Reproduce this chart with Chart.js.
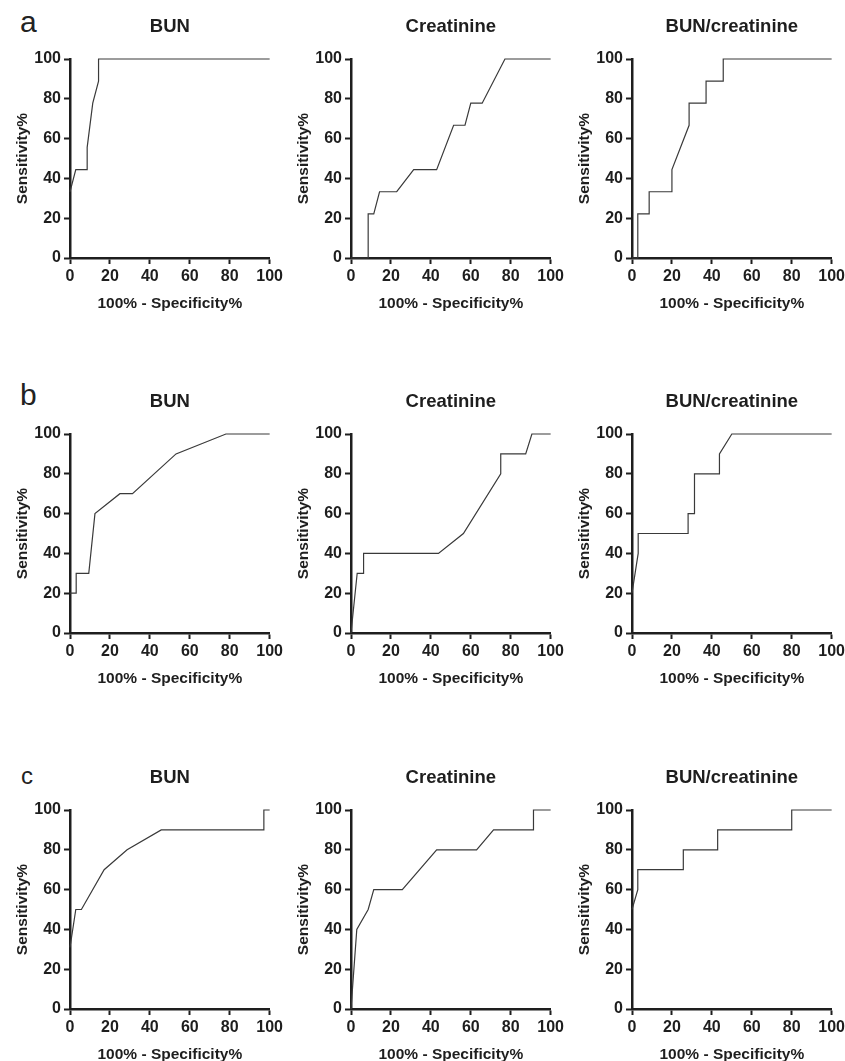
<!DOCTYPE html>
<html>
<head>
<meta charset="utf-8">
<script src="https://cdn.jsdelivr.net/npm/chart.js@4.4.1/dist/chart.umd.min.js"></script>
<style>
  html, body { margin: 0; padding: 0; background: #fff; overflow: hidden; }
  body { width: 845px; height: 1061px; position: relative; }
  canvas { position: absolute; }
  .tag { position: absolute; font-family: Arial, "Liberation Sans", sans-serif; line-height: 1; color: #222; }
</style>
</head>
<body>
<div class="tag" style="left:20px; top:7px; font-size:30px;">a</div>
<div class="tag" style="left:20px; top:380px; font-size:30px;">b</div>
<div class="tag" style="left:21px; top:764px; font-size:24px;">c</div>

<script>
// tick labels shared by every panel
const tickValues = [0, 20, 40, 60, 80, 100];
const panelTitles = ["BUN", "Creatinine", "BUN/creatinine"];

// row a
const aBunX = [0, 2.9, 8.6, 8.6, 11.4, 14.3, 14.3, 100];
const aBunY = [33.3, 44.4, 44.4, 55.6, 77.8, 88.9, 100, 100];
const aCreX = [0, 8.6, 8.6, 11.4, 14.3, 22.9, 31.4, 42.9, 51.4, 57.1, 60, 65.7, 77.1, 100];
const aCreY = [0, 0, 22.2, 22.2, 33.3, 33.3, 44.4, 44.4, 66.7, 66.7, 77.8, 77.8, 100, 100];
const aRatX = [0, 2.9, 2.9, 8.6, 8.6, 20, 20, 28.6, 28.6, 37.1, 37.1, 45.7, 45.7, 100];
const aRatY = [0, 0, 22.2, 22.2, 33.3, 33.3, 44.4, 66.7, 77.8, 77.8, 88.9, 88.9, 100, 100];

// row b
const bBunX = [0, 3.1, 3.1, 9.4, 12.5, 25, 31.3, 53.1, 78.1, 100];
const bBunY = [20, 20, 30, 30, 60, 70, 70, 90, 100, 100];
const bCreX = [0, 3.1, 6.3, 6.3, 43.8, 56.3, 75, 75, 87.5, 90.6, 100];
const bCreY = [0, 30, 30, 40, 40, 50, 80, 90, 90, 100, 100];
const bRatX = [0, 3.1, 3.1, 28.1, 28.1, 31.3, 31.3, 43.8, 43.8, 50, 100];
const bRatY = [20, 40, 50, 50, 60, 60, 80, 80, 90, 100, 100];

// row c
const cBunX = [0, 2.9, 5.7, 17.1, 28.6, 45.7, 97.1, 97.1, 100];
const cBunY = [31, 50, 50, 70, 80, 90, 90, 100, 100];
const cCreX = [0, 2.9, 8.6, 11.4, 25.7, 42.9, 62.9, 71.4, 91.4, 91.4, 100];
const cCreY = [0, 40, 50, 60, 60, 80, 80, 90, 90, 100, 100];
const cRatX = [0, 2.9, 2.9, 25.7, 25.7, 42.9, 42.9, 80, 80, 100];
const cRatY = [50, 60, 70, 70, 80, 80, 90, 90, 100, 100];

const FONT = "Arial, 'Liberation Sans', Helvetica, sans-serif";
const INK = "#1e1e1e";

// where each plot area sits on the page
const colLeft = [70, 351, 632];
const rowTop = [59, 434, 810];

const paneles = [
  [aBunX, aBunY, 0, 0], [aCreX, aCreY, 0, 1], [aRatX, aRatY, 0, 2],
  [bBunX, bBunY, 1, 0], [bCreX, bCreY, 1, 1], [bRatX, bRatY, 1, 2],
  [cBunX, cBunY, 2, 0], [cCreX, cCreY, 2, 1], [cRatX, cRatY, 2, 2],
];

paneles.forEach(function (p) {
  crearPanel(p[0], p[1], p[2], p[3]);
});

function crearPanel(xs, ys, row, col) {
  const canvas = document.createElement("canvas");
  canvas.width = 286;
  canvas.height = 319;
  canvas.style.left = (colLeft[col] - 70) + "px";
  canvas.style.top = (rowTop[row] - 60) + "px";
  document.body.appendChild(canvas);

  const puntos = xs.map((x, i) => ({ x: x, y: ys[i] }));

  const ejeComun = {
    type: "linear",
    min: 0,
    max: 100,
    afterBuildTicks: function (scale) {
      scale.ticks = tickValues.map((v) => ({ value: v }));
    },
    border: { display: true, color: INK, width: 2.5 },
    grid: {
      display: true,
      drawOnChartArea: false,
      drawTicks: true,
      tickLength: 6,
      tickWidth: 2,
      tickColor: INK,
    },
    ticks: {
      color: INK,
      padding: 3,
      font: { family: FONT, size: 16, weight: "bold" },
    },
  };

  new Chart(canvas, {
    type: "scatter",
    data: {
      datasets: [
        {
          data: puntos,
          showLine: true,
          borderColor: "#3a3a3a",
          borderWidth: 1.2,
          pointRadius: 0,
          tension: 0,
          clip: 4,
        },
      ],
    },
    options: {
      responsive: false,
      animation: false,
      layout: { padding: { top: 0, right: 16, bottom: 0, left: 0 } },
      plugins: {
        legend: { display: false },
        tooltip: { enabled: false },
        title: {
          display: true,
          text: panelTitles[col],
          fullSize: false,
          color: INK,
          font: { family: FONT, size: 18.5, weight: "bold", lineHeight: 1.2 },
          padding: { top: 17, bottom: 20.8 },
        },
      },
      scales: {
        x: Object.assign({}, ejeComun, {
          position: "bottom",
          afterFit: function (scale) {
            scale.height = 60;
          },
          title: {
            display: true,
            text: "100% - Specificity%",
            color: INK,
            font: { family: FONT, size: 15.5, weight: "bold", lineHeight: 1.2 },
            padding: { top: 0, bottom: 5 },
          },
        }),
        y: Object.assign({}, ejeComun, {
          position: "left",
          afterFit: function (scale) {
            scale.width = 70;
          },
          title: {
            display: true,
            text: "Sensitivity%",
            color: INK,
            font: { family: FONT, size: 15.5, weight: "bold", lineHeight: 1.2 },
            padding: { top: 13, bottom: 0 },
          },
        }),
      },
    },
  });
}
</script>
</body>
</html>
